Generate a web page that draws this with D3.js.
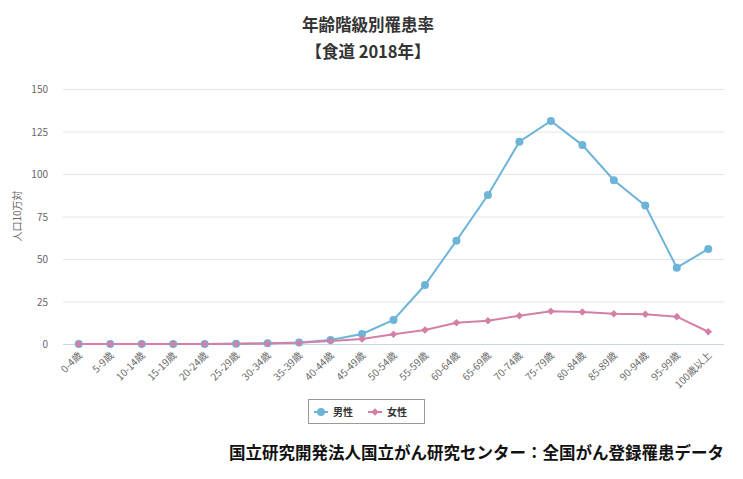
<!DOCTYPE html>
<html>
<head>
<meta charset="utf-8">
<script src="https://cdn.jsdelivr.net/npm/d3@7"></script>
<style>
  body { margin: 0; background: #fff; }
  text { font-family: "Noto Sans CJK JP", "Noto Sans", sans-serif; }
</style>
</head>
<body>
<div id="chart"></div>
<script>
// age groups and rates (per 100,000)
var ages = ["0-4歳","5-9歳","10-14歳","15-19歳","20-24歳","25-29歳","30-34歳","35-39歳","40-44歳","45-49歳","50-54歳","55-59歳","60-64歳","65-69歳","70-74歳","75-79歳","80-84歳","85-89歳","90-94歳","95-99歳","100歳以上"]
var male = [0,0,0,0,0,0.1,0.4,0.9,2.3,5.9,14.1,34.7,60.8,87.6,119,131.2,117,96.3,81.4,44.9,55.9]
var female = [0,0,0,0,0,0.1,0.3,0.7,1.8,3.0,5.7,8.2,12.5,13.7,16.6,19.2,18.8,17.8,17.5,16.1,7.2]
var yTicks = [0,25,50,75,100,125,150]

var width = 743, height = 479
var margin = {top: 89, left: 63, right: 19, bottom: 135}

var svg = d3.select("#chart").append("svg")
  .attr("width", width).attr("height", height)

var x = d3.scaleBand().domain(ages).range([margin.left, width - margin.right])
var y = d3.scaleLinear().domain([0, 150]).range([height - margin.bottom, margin.top])
var cx = function(d, i) { return x(ages[i]) + x.bandwidth() / 2 }

// titles
svg.append("text").attr("x", 368).attr("y", 31).attr("text-anchor", "middle")
  .style("font-size", "16.5px").style("font-weight", "bold").attr("fill", "#333")
  .text("年齢階級別罹患率")
svg.append("text").attr("x", 368).attr("y", 58).attr("text-anchor", "middle")
  .style("font-size", "16.5px").style("font-weight", "bold").attr("fill", "#333")
  .text("【食道 2018年】")

// grid + y labels
svg.append("g").selectAll("line").data(yTicks).enter().append("line")
  .attr("x1", margin.left).attr("x2", width - margin.right)
  .attr("y1", function(d) { return y(d) + 0.5 }).attr("y2", function(d) { return y(d) + 0.5 })
  .attr("stroke", function(d) { return d == 0 ? "#ccd6eb" : "#e6e6e6" })
svg.append("g").selectAll("text").data(yTicks).enter().append("text")
  .attr("x", 48).attr("y", function(d) { return y(d) + 4 })
  .attr("text-anchor", "end").style("font-size", "10px").attr("fill", "#666")
  .text(function(d) { return d })

svg.append("text").attr("transform", "translate(21,216) rotate(-90)")
  .attr("text-anchor", "middle").style("font-size", "10px").attr("fill", "#666")
  .text("人口10万対")

// x labels
svg.append("g").selectAll("text").data(ages).enter().append("text")
  .attr("transform", function(d, i) { return "translate(" + (cx(d, i) + 4) + "," + (y(0) + 12) + ") rotate(-45)" })
  .attr("text-anchor", "end").style("font-size", "10px").attr("fill", "#666")
  .text(function(d) { return d })

var line = d3.line().x(cx).y(function(d) { return y(d) })
var maleColor = "#6cb4d8", femaleColor = "#d47fa5"

svg.append("path").datum(male).attr("d", line).attr("fill", "none")
  .attr("stroke", maleColor).attr("stroke-width", 2)
svg.append("path").datum(female).attr("d", line).attr("fill", "none")
  .attr("stroke", femaleColor).attr("stroke-width", 2)

svg.append("g").selectAll("circle").data(male).enter().append("circle")
  .attr("cx", cx).attr("cy", function(d) { return y(d) }).attr("r", 4)
  .attr("fill", maleColor)

var diamond = d3.symbol().type(d3.symbolDiamond2).size(36)
svg.append("g").selectAll("path").data(female).enter().append("path")
  .attr("d", diamond)
  .attr("transform", function(d, i) { return "translate(" + cx(d, i) + "," + y(d) + ")" })
  .attr("fill", femaleColor)

// legend
var lg = svg.append("g")
lg.append("rect").attr("x", 308.5).attr("y", 399.5).attr("width", 116).attr("height", 24)
  .attr("fill", "none").attr("stroke", "#999")
lg.append("line").attr("x1", 314).attr("x2", 328).attr("y1", 412).attr("y2", 412)
  .attr("stroke", maleColor).attr("stroke-width", 2)
lg.append("circle").attr("cx", 321).attr("cy", 412).attr("r", 4).attr("fill", maleColor)
lg.append("text").attr("x", 333).attr("y", 416).style("font-size", "10px")
  .style("font-weight", "bold").attr("fill", "#333").text("男性")
lg.append("line").attr("x1", 368).attr("x2", 382).attr("y1", 412).attr("y2", 412)
  .attr("stroke", femaleColor).attr("stroke-width", 2)
lg.append("path").attr("d", diamond).attr("transform", "translate(375,412)").attr("fill", femaleColor)
lg.append("text").attr("x", 387).attr("y", 416).style("font-size", "10px")
  .style("font-weight", "bold").attr("fill", "#333").text("女性")

// source
svg.append("text").attr("x", 724).attr("y", 459).attr("text-anchor", "end")
  .style("font-size", "16.5px").style("font-weight", "bold").attr("fill", "#111")
  .text("国立研究開発法人国立がん研究センター：全国がん登録罹患データ")
</script>
</body>
</html>
